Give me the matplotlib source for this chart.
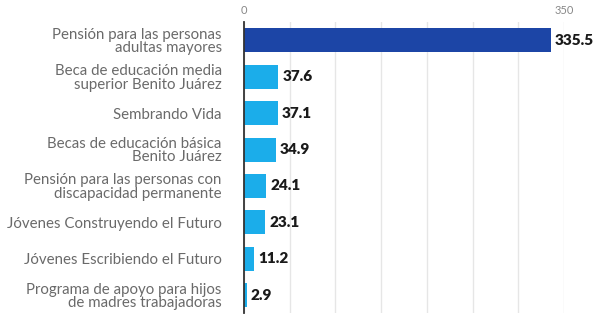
import matplotlib.pyplot as plt
import numpy as np

programas = [
    "Pensión para las personas\nadultas mayores",
    "Beca de educación media\nsuperior Benito Juárez",
    "Sembrando Vida",
    "Becas de educación básica\nBenito Juárez",
    "Pensión para las personas con\ndiscapacidad permanente",
    "Jóvenes Construyendo el Futuro",
    "Jóvenes Escribiendo el Futuro",
    "Programa de apoyo para hijos\nde madres trabajadoras",
]
montos = [335.5, 37.6, 37.1, 34.9, 24.1, 23.1, 11.2, 2.9]
etiquetas = ["335.5", "37.6", "37.1", "34.9", "24.1", "23.1", "11.2", "2.9"]

azul_oscuro = "#1c45a6"
azul_claro = "#1badea"
colores = [azul_oscuro] + [azul_claro] * (len(montos) - 1)

plt.rcParams['font.family'] = ['Lato', 'DejaVu Sans']

fig = plt.figure(figsize=(5.95, 3.15), dpi=100)
ax = fig.add_axes([0.410, 0.005, 0.538, 0.925])

y = np.arange(len(montos))
ax.barh(y, montos, height=0.66, color=colores, zorder=3)

# etiquetas de valor
for yi, v, t in zip(y, montos, etiquetas):
    ax.annotate(t, (v, yi), xytext=(3, 0), textcoords='offset points',
                va='center', ha='left', fontsize=11,
                fontweight='heavy', color='#1a1a1a', annotation_clip=False)

ax.set_ylim(len(montos) - 0.5, -0.5)
ax.set_xlim(0, 350)
ax.set_yticks(y)
ax.set_yticklabels(programas, fontsize=10.8, color='#6a6a6a',
                   linespacing=0.95)
ax.tick_params(axis='y', length=0, pad=16)

ax.set_xticks(np.arange(0, 351, 50))
ax.set_xticklabels(["0", "", "", "", "", "", "", "350"], fontsize=8,
                   color='#888888')
ax.xaxis.tick_top()
ax.tick_params(axis='x', length=0, pad=4)
ax.grid(axis='x', color='#e6e6e6', linewidth=1, zorder=0)

for s in ['top', 'right', 'bottom']:
    ax.spines[s].set_visible(False)
ax.spines['left'].set_color('#333333')
ax.spines['left'].set_linewidth(1.3)
ax.spines['left'].set_zorder(4)

fig.savefig("out.png", dpi=100)
